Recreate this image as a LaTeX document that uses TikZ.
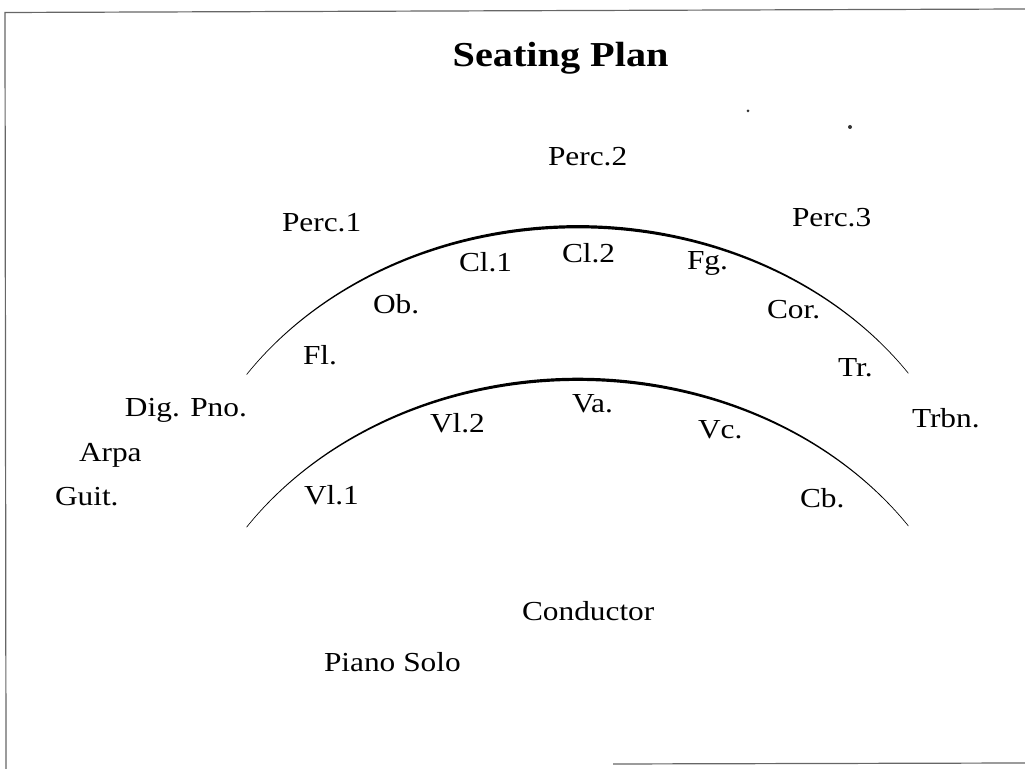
\documentclass[tikz,border=0pt]{standalone}
\usepackage{fontspec}
\setmainfont{Liberation Serif}[FakeStretch=1.14]
\newfontfamily\titlefont{Liberation Serif}[FakeStretch=1.15]
\begin{document}
\begin{tikzpicture}[x=0.5pt,y=-0.5pt,
  lbl/.style={anchor=base west, inner sep=0pt, outer sep=0pt, font=\fontsize{13.75}{16}\selectfont},
  ttl/.style={anchor=base west, inner sep=0pt, outer sep=0pt, font=\titlefont\bfseries\fontsize{17.5}{20}\selectfont},
  frameline/.style={draw=black!60, line width=0.6pt},
  speck/.style={fill=black!80}]
\path[use as bounding box] (0,0) rectangle (1025,769);
% frame
\coordinate (fTL) at (5,12.5);
\coordinate (fTR) at (1025,9);
\coordinate (fBL) at (6,769);
\coordinate (fB1) at (613,764);
\coordinate (fB2) at (1025,763);
\draw[frameline] (fBL) -- (fTL) -- (fTR);
\draw[frameline] (fB1) -- (fB2);
% specks
\fill[speck] (748,111) circle (1.5);
\fill[speck] (850,127) circle (2);
% arcs (tapered)
\foreach \cy in {562.7,715.3}{
  \fill plot[domain=34.34:145.92,samples=120]
     ({578+400*cos(\x)},{\cy-336*sin(\x)-0.5*(1+2.2*(sin(\x)-0.55)*(sin(\x)-0.55)/0.2025)})
   -- plot[domain=145.92:34.34,samples=120]
     ({578+400*cos(\x)},{\cy-336*sin(\x)+0.5*(1+2.2*(sin(\x)-0.55)*(sin(\x)-0.55)/0.2025)})
   -- cycle;
}
% title
\node[ttl] (title) at (452.7,67) {Seating Plan};
% labels
\node[lbl] (perc2) at (548,166) {Perc.2};
\node[lbl] (perc1) at (282,232) {Perc.1};
\node[lbl] (perc3) at (792,227) {Perc.3};
\node[lbl] (cl1) at (459,272) {Cl.1};
\node[lbl] (cl2) at (562,263) {Cl.2};
\node[lbl] (fg) at (687,270) {Fg.};
\node[lbl] (ob) at (373,314) {Ob.};
\node[lbl] (cor) at (767,319) {Cor.};
\node[lbl] (fl) at (303,365) {Fl.};
\node[lbl] (tr) at (838,377) {Tr.};
\node[lbl] (va) at (572,413) {Va.};
\node[lbl] (vl2) at (430,433) {Vl.2};
\node[lbl] (vc) at (698,439) {Vc.};
\node[lbl] (trbn) at (912,428) {Trbn.};
\node[lbl] (vl1) at (304,505) {Vl.1};
\node[lbl] (cb) at (800,508) {Cb.};
\node[lbl] (digpno) at (125,417) {Dig. Pno.};
\node[lbl] (arpa) at (79,462) {Arpa};
\node[lbl] (guit) at (55,506) {Guit.};
\node[lbl] (cond) at (522,621) {Conductor};
\node[lbl] (piano) at (324,672) {Piano Solo};
\end{tikzpicture}
\end{document}
